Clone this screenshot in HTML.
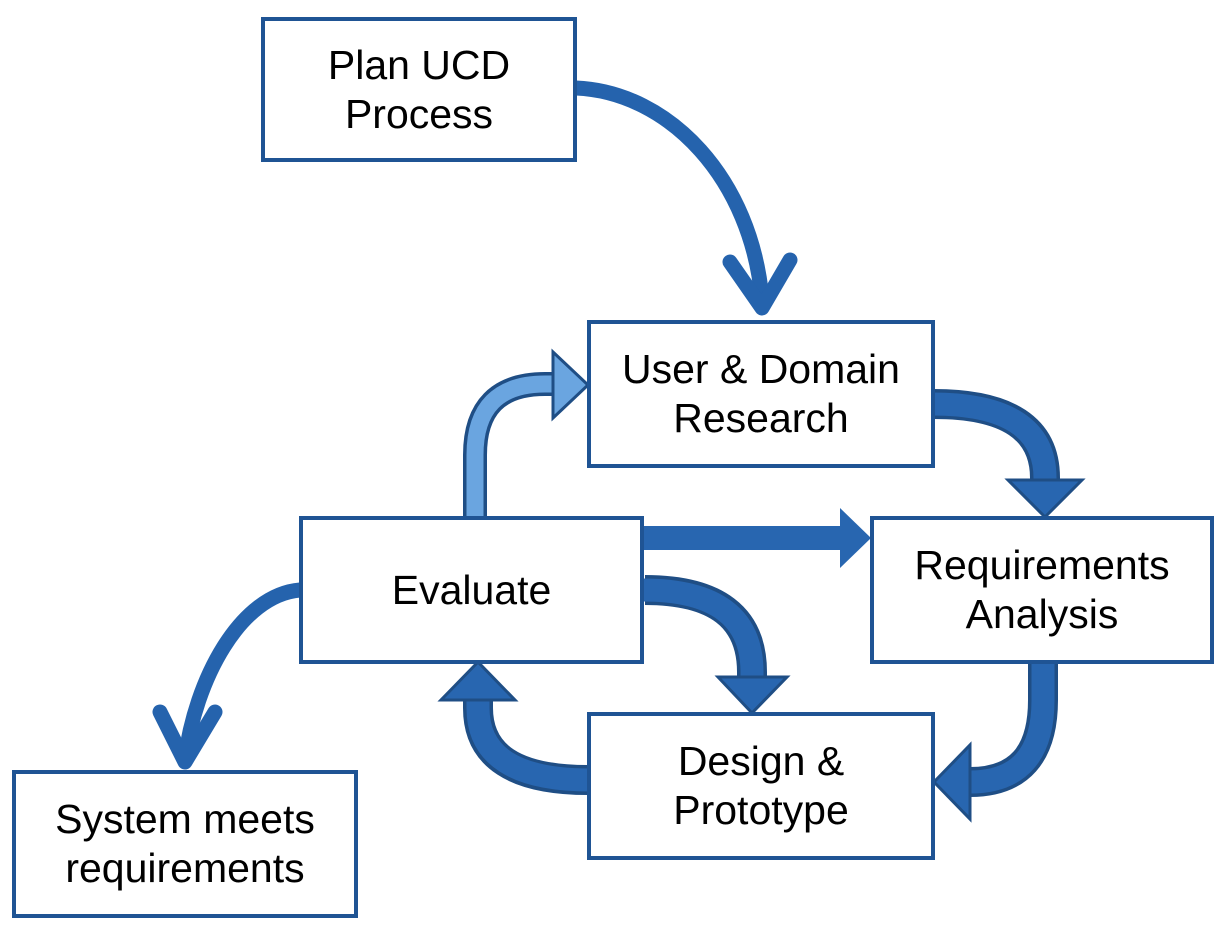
<!DOCTYPE html>
<html><head><style>
body{margin:0;background:#fff;}
.b{position:absolute;background:#fff;border:4px solid #1f5494;box-sizing:border-box;display:flex;align-items:center;justify-content:center;text-align:center;font-family:"Liberation Sans",Arial,Helvetica,sans-serif;font-size:41px;line-height:49px;color:#000;}
</style></head><body>
<div style="position:relative;width:1226px;height:928px;overflow:hidden;">
<svg width="1226" height="928" style="position:absolute;left:0;top:0">
<g fill="none" stroke-linecap="round" stroke-linejoin="round">
<path d="M576,88 C670,92 752,180 762,300" stroke="#2563ad" stroke-width="15" stroke-linecap="butt"/>
<path d="M730,262 L762,308 L790,260" stroke="#2563ad" stroke-width="15"/>
<path d="M300,590 C240,595 195,680 185,760" stroke="#2563ad" stroke-width="15" stroke-linecap="butt"/>
<path d="M160,712 L185,762 L215,712" stroke="#2563ad" stroke-width="15"/>
</g>
<g stroke-linecap="butt" fill="none">
<path d="M475,517 L475,455 Q475,384 545,384 L556,384" stroke="#1f4e85" stroke-width="24"/>
<path d="M475,519 L475,455 Q475,384 545,384 L558,384" stroke="#6aa5e0" stroke-width="17"/>
<path d="M934,404 Q1045,404 1045,478 L1045,484" stroke="#1f4e85" stroke-width="30"/>
<path d="M932,404 Q1045,404 1045,478 L1045,486" stroke="#2866b0" stroke-width="23"/>
<path d="M645,590 Q752,590 752,672 L752,680" stroke="#1f4e85" stroke-width="30"/>
<path d="M643,590 Q752,590 752,672 L752,682" stroke="#2866b0" stroke-width="23"/>
<path d="M1043,662 L1043,700 Q1043,782 970,782 L968,782" stroke="#1f4e85" stroke-width="30"/>
<path d="M1043,660 L1043,700 Q1043,782 970,782 L966,782" stroke="#2866b0" stroke-width="23"/>
<path d="M588,780 Q478,780 478,708 L478,700" stroke="#1f4e85" stroke-width="30"/>
<path d="M590,780 Q478,780 478,708 L478,698" stroke="#2866b0" stroke-width="23"/>
<rect x="643" y="526" width="200" height="24" fill="#2866b0"/>
</g>
<g stroke="#1f4e85" stroke-width="3" stroke-linejoin="miter">
<polygon points="553,352 588,385 553,418" fill="#6aa5e0"/>
<polygon points="1008,480 1082,480 1045,517" fill="#2866b0"/>
<polygon points="718,677 787,677 752,713" fill="#2866b0"/>
<polygon points="970,745 970,819 934,782" fill="#2866b0"/>
<polygon points="441,700 515,700 478,662" fill="#2866b0"/>
<polygon points="840,508 871,538 840,568" fill="#2866b0" stroke="none"/>
</g>
</svg>
<div class="b" style="left:261px;top:17px;width:316px;height:145px;">Plan UCD<br>Process</div>
<div class="b" style="left:587px;top:320px;width:348px;height:148px;">User &amp; Domain<br>Research</div>
<div class="b" style="left:870px;top:516px;width:344px;height:148px;">Requirements<br>Analysis</div>
<div class="b" style="left:299px;top:516px;width:345px;height:148px;">Evaluate</div>
<div class="b" style="left:587px;top:712px;width:348px;height:148px;">Design &amp;<br>Prototype</div>
<div class="b" style="left:12px;top:770px;width:346px;height:148px;">System meets<br>requirements</div>
</div>
</body></html>
